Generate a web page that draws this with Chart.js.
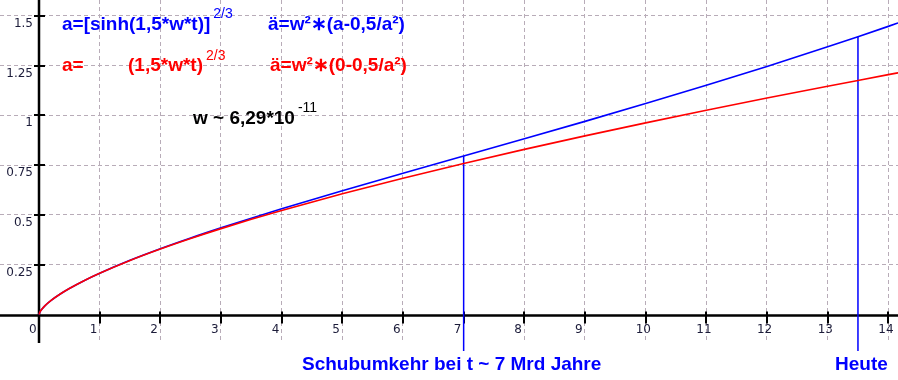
<!DOCTYPE html>
<html lang="de">
<head>
  <meta charset="UTF-8">
  <title>Skalenfaktor a(t)</title>
  <script src="https://cdn.jsdelivr.net/npm/chart.js"></script>
  <style>
    body { margin: 0; background: #fff; }
    canvas { display: block; }
  </style>
</head>
<body>
  <canvas id="grafik" width="898" height="380"></canvas>

  <script>
    // Zeit in Mrd Jahren
    const zeit = [0, 0.02, 0.05, 0.1, 0.2, 0.35, 0.5, 0.75, 1, 1.5, 2, 2.5, 3, 3.5, 4, 5, 6, 7, 8, 9, 10, 11, 12, 13, 13.5, 14, 14.2];
    // a=[sinh(1,5*w*t)]^(2/3)  (blau)
    const aSinh = [0, 0.0153, 0.0281, 0.0447, 0.0709, 0.1029, 0.1306, 0.1712, 0.2075, 0.2723, 0.3303, 0.3842, 0.4350, 0.4836, 0.5305, 0.6211, 0.7089, 0.7955, 0.8821, 0.9697, 1.0590, 1.1508, 1.2455, 1.3440, 1.3948, 1.4466, 1.4677];
    // a=(1,5*w*t)^(2/3)  (rot)
    const aMaterie = [0, 0.0153, 0.0281, 0.0447, 0.0709, 0.1029, 0.1306, 0.1711, 0.2073, 0.2717, 0.3291, 0.3818, 0.4312, 0.4778, 0.5224, 0.6061, 0.6845, 0.7586, 0.8292, 0.8969, 0.9622, 1.0253, 1.0866, 1.1461, 1.1753, 1.2042, 1.2155];

    // senkrechte Markierungen: Schubumkehr und Heute
    const markT = [7, 13.5];
    const markOben = [0.7955, 1.3948];
    const markUnten = -0.183;

    const xTicks = [0, 1, 2, 3, 4, 5, 6, 7, 8, 9, 10, 11, 12, 13, 14];
    const xLabels = ["0", "1", "2", "3", "4", "5", "6", "7", "8", "9", "10", "11", "12", "13", "14"];
    const yTicks = [0.25, 0.5, 0.75, 1, 1.25, 1.5];
    const yLabels = ["0.25", "0.5", "0.75", "1", "1.25", "1.5"];

    const punkte = (ys) => zeit.map((t, i) => ({ x: t, y: ys[i] }));

    const achsen = {
      id: "achsen",
      beforeDatasetsDraw(chart) {
        const ctx = chart.ctx;
        const sx = chart.scales.x, sy = chart.scales.y;
        const area = chart.chartArea;
        const x0 = Math.round(sx.getPixelForValue(0));
        const y0 = Math.round(sy.getPixelForValue(0)) + 0.5;
        ctx.save();
        ctx.strokeStyle = "#000";
        ctx.lineWidth = 2.5;
        ctx.beginPath();
        ctx.moveTo(area.left, y0); ctx.lineTo(area.right, y0);
        ctx.moveTo(x0, area.top); ctx.lineTo(x0, area.bottom);
        ctx.stroke();
        ctx.lineWidth = 2;
        ctx.beginPath();
        xTicks.forEach(v => {
          if (v === 0) return;
          const px = Math.round(sx.getPixelForValue(v));
          ctx.moveTo(px, y0 - 4); ctx.lineTo(px, y0 + 8);
        });
        yTicks.forEach(v => {
          const py = Math.round(sy.getPixelForValue(v));
          ctx.moveTo(x0 - 5, py); ctx.lineTo(x0 + 6, py);
        });
        ctx.stroke();

        ctx.fillStyle = "#1c1c3a";
        ctx.font = "12px 'DejaVu Sans'";
        ctx.textBaseline = "middle";
        ctx.textAlign = "left";
        xTicks.forEach((v, i) => {
          const px = sx.getPixelForValue(v);
          ctx.fillText(xLabels[i], px - 10, y0 + 14);
        });
        ctx.textAlign = "right";
        yTicks.forEach((v, i) => {
          const py = sy.getPixelForValue(v);
          ctx.fillText(yLabels[i], x0 - 6, py + 8);
        });
        ctx.restore();
      },
      afterDraw(chart) {
        const ctx = chart.ctx;
        ctx.save();
        ctx.textBaseline = "alphabetic";
        ctx.textAlign = "left";
        const haupt = "bold 19px 'Liberation Sans', Arial, sans-serif";
        const hoch = "14px 'Liberation Sans', Arial, sans-serif";
        const schreib = (text, x, y, farbe, hochText, hochY) => {
          ctx.fillStyle = farbe;
          ctx.font = haupt;
          ctx.fillText(text, x, y);
          if (hochText) {
            const w = ctx.measureText(text).width;
            ctx.font = hoch;
            ctx.fillText(hochText, x + w + 3, hochY);
          }
        };
        schreib("a=[sinh(1,5*w*t)]", 62, 30, "#0000ff", "2/3", 17.5);
        schreib("ä=w²∗(a-0,5/a²)", 268, 30, "#0000ff");
        schreib("a=", 62, 71, "#ff0000");
        schreib("(1,5*w*t)", 128, 71, "#ff0000", "2/3", 60);
        schreib("ä=w²∗(0-0,5/a²)", 270, 71, "#ff0000");
        schreib("w ~ 6,29*10", 193, 124, "#000000", "-11", 112);
        schreib("Schubumkehr bei t ~ 7 Mrd Jahre", 302, 369.5, "#0000ff");
        schreib("Heute", 835, 369.5, "#0000ff");
        ctx.restore();
      }
    };

    const ctx = document.getElementById("grafik").getContext("2d");
    new Chart(ctx, {
      type: "scatter",
      data: {
        datasets: [
          {
            label: "a=(1,5*w*t)^(2/3)",
            data: punkte(aMaterie),
            showLine: true,
            borderColor: "#ff0000",
            borderWidth: 1.6,
            pointRadius: 0,
            cubicInterpolationMode: "monotone"
          },
          {
            label: "a=[sinh(1,5*w*t)]^(2/3)",
            data: punkte(aSinh),
            showLine: true,
            borderColor: "#0000ff",
            borderWidth: 1.6,
            pointRadius: 0,
            cubicInterpolationMode: "monotone"
          },
          {
            label: "Schubumkehr",
            data: [{ x: markT[0], y: markOben[0] }, { x: markT[0], y: markUnten }],
            showLine: true,
            borderColor: "#0000ff",
            borderWidth: 1.5,
            pointRadius: 0,
            clip: false
          },
          {
            label: "Heute",
            data: [{ x: markT[1], y: markOben[1] }, { x: markT[1], y: markUnten }],
            showLine: true,
            borderColor: "#0000ff",
            borderWidth: 1.5,
            pointRadius: 0,
            clip: false
          }
        ]
      },
      options: {
        responsive: false,
        animation: false,
        devicePixelRatio: 1,
        layout: { padding: { left: 0, right: 0, top: 0, bottom: 37 } },
        plugins: {
          legend: { display: false },
          tooltip: { enabled: false }
        },
        scales: {
          x: {
            type: "linear",
            min: -0.643,
            max: 14.16,
            afterBuildTicks: (axis) => { axis.ticks = xTicks.map(v => ({ value: v })); },
            ticks: { display: false },
            grid: { color: "#b8acb8", lineWidth: 1, drawTicks: false },
            border: { display: false, dash: [4, 3] }
          },
          y: {
            type: "linear",
            min: -0.143,
            max: 1.579,
            afterBuildTicks: (axis) => { axis.ticks = yTicks.map(v => ({ value: v })); },
            ticks: { display: false },
            grid: { color: "#b8acb8", lineWidth: 1, drawTicks: false },
            border: { display: false, dash: [4, 3] }
          }
        }
      },
      plugins: [achsen]
    });
  </script>
</body>
</html>
